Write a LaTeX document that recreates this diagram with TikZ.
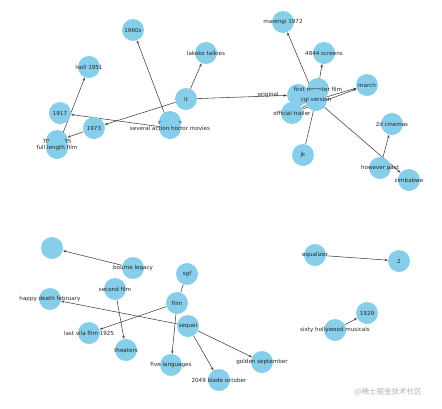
\documentclass[tikz,border=0pt]{standalone}
\usepackage{fontspec}
\setmainfont{DejaVu Sans}
\newfontfamily\cjk{Noto Sans CJK SC}
\usetikzlibrary{arrows.meta,backgrounds}
\definecolor{skyblue}{HTML}{87CEEB}
\definecolor{edgegrey}{HTML}{404040}
\definecolor{markgrey}{HTML}{B0B0B0}

\tikzset{
  lbl/.style={font=\fontsize{5.6}{6.5}\selectfont, text=black!85, inner sep=0pt},
  gnode/.style={circle, fill=skyblue, minimum size=22pt, inner sep=0pt,
    label={[lbl]center:#1}},
  gnode/.default={},
  edge/.style={draw=edgegrey, line width=0.55pt, -{Stealth[length=3.2pt,width=2.4pt]}},
  plain/.style={draw=edgegrey, line width=0.55pt}
}

\begin{document}
\begin{tikzpicture}[x=1pt, y=-1pt]
      \useasboundingbox (0,0) rectangle (442,408);
      % top left cluster
      \node[gnode=1960s] (y1960s) at (133,30) {};
      \node[gnode=lakoko talkies] (lakoko) at (206,53) {};
      \node[gnode=lsoll\ 1951] (lsoll) at (89,67) {};
      \node[gnode=it] (it) at (186,99) {};
      \node[gnode=1917] (y1917) at (60,113) {};
      \node[gnode=1973] (y1973) at (94,128) {};
      \node[gnode=sold film] (sold) at (170,122) {};
      \node[gnode=several action horror movies] (several) at (170,128) {};
      \node[gnode=70 mm 35] (mm70) at (57,141) {};
      \node[gnode=full length film] (full) at (57,148) {};
      % top right cluster
      \node[gnode=marengi 1972] (marengi) at (283,22) {};
      \node[gnode=4844 screens] (screens) at (324,53) {};
      \node[gnode=march] (march) at (367,85) {};
      \node[gnode, label={[lbl, xshift=-8pt]180:original}] (original) at (298,95) {};
      \node[gnode=official trailer] (trailer) at (292,113) {};
      \node[gnode=first monster film] (monster) at (318,89) {};
      \node[gnode=cgi version] (cgi) at (316,100) {};
      \node[gnode=jk] (jk) at (303,155) {};
      \node[gnode=2d cinemas] (cinemas) at (392,124) {};
      \node[gnode=however past] (however) at (380,168) {};
      \node[gnode=zimbabwe] (zimbabwe) at (409,180) {};
      % bottom left cluster
      \node[gnode] (blank) at (52,248) {};
      \node[gnode=bourne legacy] (bourne) at (133,268) {};
      \node[gnode=sgf] (sgf) at (187,274) {};
      \node[gnode=second film] (second) at (115,289) {};
      \node[gnode=happy death february] (happy) at (50,299) {};
      \node[gnode=film] (film) at (177,303) {};
      \node[gnode=sequel] (sequel) at (188,326) {};
      \node[gnode=last vila film 1925] (vila) at (89,333) {};
      \node[gnode=theaters] (theaters) at (126,350) {};
      \node[gnode=five languages] (five) at (171,365) {};
      \node[gnode=golden september] (golden) at (262,362) {};
      \node[gnode=2049 blade october] (blade) at (219,380) {};
      % bottom right pairs
      \node[gnode=equalizer] (equalizer) at (315,255) {};
      \node[gnode=2] (two) at (399,261) {};
      \node[gnode=1929] (y1929) at (367,313) {};
      \node[gnode=sixty hollywood musicals] (sixty) at (335,330) {};
      % edges
      \begin{scope}[on background layer]
        \foreach \a/\b in {it/lakoko, it/y1973, it/original, several/y1960s,
          several/y1917, y1973/mm70, full/lsoll,
          cgi/marengi, cgi/screens, cgi/march, cgi/zimbabwe, trailer/march,
          original/monster, however/cinemas,
          bourne/blank, second/theaters, film/vila, film/five, sequel/happy,
          sequel/golden, sequel/blade, equalizer/two, sixty/y1929}
          \draw[edge] (\a) -- (\b);
        \foreach \a/\b in {jk/cgi, sgf/film, trailer/cgi, trailer/monster}
          \draw[plain] (\a) -- (\b);
      \end{scope}
      % watermark
      \node[font=\cjk\fontsize{7.5}{9}\selectfont, text=markgrey] (mark) at (388,392) {@稀土掘金技术社区};
\end{tikzpicture}
\end{document}
